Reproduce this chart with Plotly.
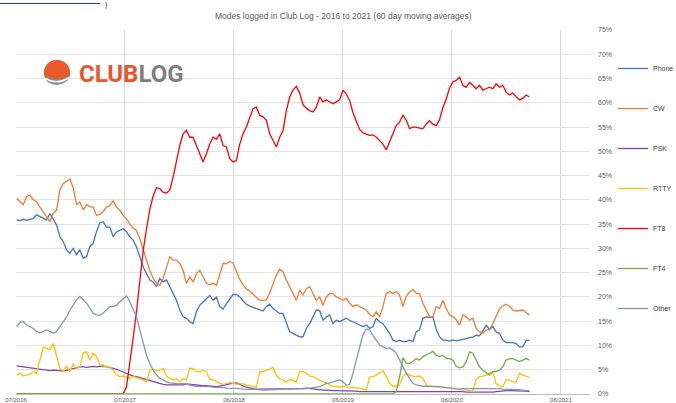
import math
import pandas as pd
import plotly.graph_objects as go

# ---------------- data (percent share, 60 day moving averages, sampled every 11 days) ----------------
start_date = "2016-07-12"
step = "11D"

phone = [35.9, 35.7, 36.0, 35.8, 36.0, 36.2, 36.9, 36.6, 36.2, 35.9,
         37.2, 35.9, 34.8, 32.4, 31.4, 29.7, 29.0, 30.0, 28.7, 29.7,
         28.0, 28.3, 30.4, 31.1, 33.5, 35.3, 35.5, 34.4, 34.4, 32.4,
         33.4, 33.7, 34.1, 33.4, 32.4, 31.7, 30.3, 28.3, 26.2, 24.8,
         23.5, 23.1, 22.1, 23.8, 23.1, 23.5, 22.1, 20.7, 19.3, 17.3,
         15.9, 15.6, 14.9, 14.5, 17.0, 18.3, 19.0, 19.6, 20.3, 19.3,
         20.0, 18.0, 17.5, 18.6, 19.6, 20.5, 20.5, 20.0, 19.2, 18.5,
         18.1, 17.8, 17.6, 17.4, 17.1, 18.0, 18.5, 17.6, 17.1, 16.6,
         16.6, 14.5, 12.8, 12.5, 12.1, 11.8, 11.8, 13.5, 14.5, 15.9,
         17.3, 17.2, 15.2, 15.9, 16.3, 14.5, 15.2, 14.9, 15.2, 15.6,
         15.2, 14.9, 14.5, 14.2, 13.9, 14.2, 13.5, 13.9, 15.6, 14.9,
         14.5, 13.5, 12.5, 11.1, 10.8, 11.1, 10.8, 10.8, 11.1, 10.8,
         12.8, 13.2, 15.6, 15.9, 15.8, 15.9, 13.3, 11.8, 11.1, 11.1,
         10.9, 11.1, 11.0, 11.1, 11.2, 11.4, 11.6, 11.7, 12.1, 12.0,
         13.0, 14.2, 13.3, 13.9, 12.8, 12.5, 11.1, 10.6, 10.6, 10.6,
         10.4, 9.7, 9.7, 11.0, 11.1]

cw = [40.3, 39.6, 39.0, 40.7, 41.0, 40.0, 39.6, 38.5, 37.5, 36.5,
      35.5, 37.2, 37.9, 42.0, 43.4, 43.8, 44.3, 42.5, 39.0, 39.6,
      37.9, 39.0, 38.6, 38.5, 36.8, 37.0, 37.6, 38.5, 38.8, 39.8,
      38.5, 37.9, 36.8, 36.1, 35.0, 34.2, 33.7, 32.0, 29.6, 27.6,
      25.5, 23.8, 22.8, 22.4, 23.8, 26.2, 28.3, 27.6, 27.6, 26.9,
      25.5, 22.8, 24.1, 23.1, 24.8, 25.5, 24.0, 22.8, 22.5, 22.8,
      22.4, 24.5, 26.9, 26.8, 27.3, 27.0, 25.3, 23.6, 22.5, 21.7,
      21.2, 20.5, 20.0, 19.3, 19.3, 19.4, 20.8, 22.6, 24.5, 25.7,
      25.2, 23.5, 22.1, 20.7, 19.3, 21.4, 20.4, 21.7, 22.1, 20.7,
      19.3, 20.0, 18.3, 20.0, 20.7, 20.7, 20.0, 19.7, 19.3, 19.7,
      18.7, 18.0, 18.4, 18.0, 17.6, 17.3, 16.4, 15.9, 16.9, 15.9,
      18.0, 20.7, 21.1, 20.7, 21.1, 20.4, 18.0, 20.2, 21.0, 21.5,
      20.8, 20.7, 18.7, 17.3, 15.9, 15.9, 18.0, 17.6, 19.3, 17.6,
      16.3, 15.9, 15.3, 14.2, 16.3, 15.9, 15.2, 15.6, 13.5, 12.8,
      12.5, 13.2, 13.2, 14.5, 15.9, 17.5, 18.2, 18.5, 18.1, 17.3,
      17.1, 17.2, 17.3, 16.8, 16.3]

psk = [5.8, 5.7, 5.5, 5.4, 5.3, 5.2, 5.1, 5.0, 4.9, 4.9,
       4.8, 4.9, 4.9, 4.8, 4.7, 4.9, 5.1, 5.3, 5.5, 5.6,
       5.6, 5.5, 5.6, 5.7, 5.6, 5.7, 5.8, 5.6, 5.5, 5.3,
       5.1, 4.8, 4.6, 4.3, 4.0, 3.7, 3.6, 3.4, 3.2, 2.9,
       2.7, 2.5, 2.3, 2.2, 2.0, 1.9, 1.9, 1.8, 1.8, 1.8,
       1.9, 2.1, 2.0, 1.9, 1.8, 1.8, 1.7, 1.7, 1.6, 1.5,
       1.5, 1.6, 1.8, 2.0, 2.1, 2.2, 2.3, 2.0, 1.6, 1.4,
       1.2, 1.1, 1.0, 1.0, 1.0, 1.0, 1.0, 1.0, 1.0, 1.0,
       1.0, 1.0, 1.0, 1.0, 1.0, 1.1, 1.1, 1.2, 1.1, 1.0,
       0.9, 0.8, 0.8, 0.8, 0.7, 0.7, 0.7, 0.7, 0.6, 0.6,
       0.6, 0.6, 0.6, 0.5, 0.5, 0.5, 0.5, 0.5, 0.5, 0.5,
       0.5, 0.5, 0.5, 0.5, 0.5, 0.5, 0.6, 0.6, 0.5, 0.5,
       0.5, 0.5, 0.5, 0.5, 0.5, 0.5, 0.5, 0.5, 0.5, 0.5,
       0.5, 0.5, 0.5, 0.5, 0.5, 0.4, 0.4, 0.4, 0.4, 0.4,
       0.4, 0.3, 0.3, 0.4, 0.5, 0.6, 0.7, 0.7, 0.7, 0.7,
       0.7, 0.7, 0.6, 0.6, 0.5]

rtty = [3.9, 4.3, 3.7, 3.9, 4.1, 4.6, 4.3, 7.0, 9.6, 9.4,
        9.1, 10.4, 7.7, 5.3, 4.6, 5.8, 4.6, 6.2, 5.3, 5.5,
        8.5, 8.7, 7.0, 8.4, 7.7, 6.0, 6.0, 5.5, 5.6, 4.9,
        3.9, 3.6, 3.7, 3.4, 3.2, 3.6, 3.4, 3.2, 2.9, 2.5,
        4.9, 5.1, 4.8, 4.9, 5.3, 3.6, 3.2, 2.9, 3.2, 2.5,
        3.2, 2.9, 5.3, 5.3, 4.6, 4.6, 4.9, 4.6, 3.0, 2.9,
        2.6, 2.2, 2.0, 2.2, 2.4, 2.2, 2.0, 2.1, 2.1, 1.9,
        1.7, 1.5, 1.4, 4.6, 4.6, 4.9, 5.1, 5.5, 3.8, 3.2,
        2.9, 2.5, 3.0, 2.8, 2.5, 4.6, 4.6, 4.3, 3.7, 3.6,
        3.2, 2.9, 2.5, 2.3, 1.9, 1.5, 1.6, 1.4, 1.6, 1.4,
        1.2, 1.4, 1.2, 1.2, 1.0, 0.8, 3.5, 3.6, 3.9, 4.3,
        4.8, 3.6, 2.2, 1.6, 1.6, 1.9, 3.6, 4.3, 3.9, 3.7,
        3.6, 3.7, 3.2, 1.9, 1.6, 1.5, 1.5, 1.4, 1.4, 1.3,
        1.2, 1.1, 1.0, 0.9, 0.8, 0.8, 0.7, 0.6, 3.0, 3.6,
        3.7, 3.9, 4.3, 4.6, 2.1, 1.7, 1.5, 2.9, 2.9, 2.5,
        2.5, 4.3, 3.9, 3.6, 3.4]

ft8 = [0.0] * 33 + [
        1.5, 6.0, 11.5, 17.0, 23.5, 29.5, 34.0,
        38.0, 40.8, 42.5, 42.3, 41.6, 41.4, 42.0, 44.7, 48.1, 51.2,
        53.6, 54.3, 52.9, 52.9, 51.2, 49.5, 47.8, 49.5, 51.5, 52.9,
        52.5, 53.6, 51.2, 50.9, 48.5, 47.8, 48.1, 51.5, 53.6, 55.0,
        57.1, 58.8, 59.1, 57.4, 57.1, 56.4, 53.6, 52.2, 50.9, 52.9,
        54.3, 58.4, 61.2, 62.6, 63.4, 62.0, 59.6, 58.9, 58.4, 58.1,
        59.1, 61.2, 60.2, 60.6, 60.2, 59.8, 60.2, 60.6, 62.6, 61.8,
        60.5, 58.0, 56.2, 54.5, 53.8, 53.5, 53.3, 53.4, 52.9, 52.2,
        51.5, 50.3, 52.0, 54.0, 55.3, 56.0, 57.5, 56.4, 54.7, 55.0,
        55.0, 54.8, 54.7, 55.6, 56.3, 55.6, 55.3, 56.5, 59.0, 60.8,
        63.0, 64.3, 64.6, 65.3, 63.6, 63.2, 64.2, 63.6, 62.9, 63.6,
        62.6, 62.9, 63.2, 62.9, 63.9, 63.2, 63.6, 62.2, 61.6, 62.0,
        61.2, 60.6, 60.9, 61.6, 61.2]

ft4 = [0.0] * 114 + [
        0.5, 3.5, 7.5, 6.3, 6.3, 6.7,
        7.3, 7.0, 7.7, 8.0, 8.4, 8.8, 8.0, 7.7, 8.0, 7.3,
        7.3, 7.0, 5.7, 5.4, 5.6, 6.6, 8.7, 8.4, 7.0, 5.6,
        4.9, 4.3, 3.9, 4.6, 4.6, 4.9, 5.6, 7.0, 7.3, 7.3,
        7.0, 6.7, 7.0, 7.3, 7.0]

other = [13.9, 14.7, 14.9, 14.2, 13.9, 13.5, 12.9, 12.6, 12.9, 13.2,
         12.9, 12.5, 12.9, 13.9, 14.9, 15.9, 17.3, 18.4, 19.4, 20.1,
         19.4, 18.7, 17.7, 16.6, 16.3, 16.2, 16.7, 17.3, 18.0, 18.0,
         18.3, 19.0, 19.7, 20.2, 19.0, 17.6, 15.9, 13.2, 10.4, 8.0,
         6.3, 4.9, 3.9, 3.2, 2.9, 2.5, 2.3, 2.2, 2.1, 2.1,
         2.2, 2.0, 1.9, 1.7, 1.6, 1.6, 1.5, 1.5, 1.5, 1.4,
         1.4, 1.3, 1.3, 1.2, 1.2, 1.2, 1.1, 1.1, 1.0, 1.0,
         1.0, 0.9, 0.9, 0.9, 0.8, 0.8, 0.8, 0.9, 0.9, 1.0,
         1.0, 1.0, 1.0, 1.0, 1.0, 1.1, 1.1, 1.1, 1.2, 1.3,
         1.3, 1.5, 1.8, 2.2, 2.3, 2.5, 2.7, 2.9, 2.5, 1.8,
         2.0, 4.2, 7.0, 9.8, 12.2, 13.4, 13.2, 12.1, 11.1, 10.1,
         9.7, 9.4, 9.5, 9.1, 8.4, 7.0, 5.6, 4.3, 3.2, 2.2,
         1.9, 1.7, 1.6, 1.6, 1.6, 1.6, 1.6, 1.5, 1.4, 1.3,
         1.2, 1.1, 1.0, 1.0, 1.1, 1.1, 1.2, 1.2, 1.2, 1.2,
         1.2, 1.2, 1.2, 1.1, 1.1, 1.1, 1.0, 1.0, 1.0, 1.0,
         1.0, 0.9, 0.8, 0.7, 0.7]

series_names = ["Phone", "CW", "PSK", "RTTY", "FT8", "FT4", "Other"]
series_values = [phone, cw, psk, rtty, ft8, ft4, other]
series_colors = ["#4472C4", "#ED7D31", "#7E3FC8", "#FFC000", "#FF0000", "#70AD47", "#8497B0"]

tick_dates = ["2016-07-10", "2017-07-05", "2018-06-30", "2019-06-25", "2020-06-19", "2021-06-14"]
tick_labels = ["07/2016", "07/2017", "06/2018", "06/2019", "06/2020", "06/2021"]
x_range = ["2016-07-10", "2021-09-18"]
y_ticks = list(range(0, 80, 5))
y_tick_labels = [f"{v}%" for v in y_ticks]

title_text = "Modes logged in Club Log - 2016 to 2021 (60 day moving averages)"

# ---------------- figure ----------------
dates = pd.date_range(start_date, periods=len(phone), freq=step)

fig = go.Figure()
for name, vals, col in zip(series_names, series_values, series_colors):
    fig.add_trace(go.Scatter(x=dates, y=vals, name=name, mode="lines",
                             legendgroup=name,
                             line=dict(color=col, width=1.3)))

# plot-area geometry in pixels (for decorations)
L, R, T, B = 16, 590, 30, 394
W, H = 676, 403


def pp(px, py):
    return (px - L) / (R - L), (B - py) / (B - T)


shapes = []
# ClubLog sphere icon
cx, cy, r = 57, 73, 13
x0, y0 = pp(cx - r, cy + r)
x1, y1 = pp(cx + r, cy - r)
shapes.append(dict(type="circle", xref="paper", yref="paper", x0=x0, y0=y0, x1=x1, y1=y1,
                   fillcolor="#8C8C8C", line=dict(width=0), layer="above"))
pts = []
for a in range(195, -20, -10):
    ar = math.radians(a)
    pts.append(pp(cx + r * math.cos(ar), cy - r * math.sin(ar)))
path = "M " + " L ".join(f"{x:.5f},{y:.5f}" for x, y in pts)
qc = pp(cx + 1, cy + 9)
path += f" Q {qc[0]:.5f},{qc[1]:.5f} {pts[0][0]:.5f},{pts[0][1]:.5f} Z"
shapes.append(dict(type="path", xref="paper", yref="paper", path=path,
                   fillcolor="#EA5A2A", line=dict(width=0), layer="above"))
for (ax, ay), (qx, qy), (bx, by) in [((45.3, 78.5), (57, 85.5), (69.2, 77.5)),
                                     ((47.5, 82.8), (57, 89), (66.8, 82.2))]:
    a1, q1, b1 = pp(ax, ay), pp(qx, qy), pp(bx, by)
    shapes.append(dict(type="path", xref="paper", yref="paper",
                       path=f"M {a1[0]:.5f},{a1[1]:.5f} Q {q1[0]:.5f},{q1[1]:.5f} {b1[0]:.5f},{b1[1]:.5f}",
                       line=dict(color="white", width=1.6), layer="above"))
# cut-off hyperlink underline at the very top-left
u0, u1 = pp(0, 3.5), pp(100, 3.5)
shapes.append(dict(type="line", xref="paper", yref="paper", x0=u0[0], y0=u0[1], x1=u1[0], y1=u1[1],
                   line=dict(color="#1A3FD6", width=1)))

annotations = []
tx, ty = pp(343, 16)
annotations.append(dict(text=title_text, xref="paper", yref="paper", x=tx, y=ty,
                        xanchor="center", yanchor="middle", showarrow=False,
                        font=dict(family="Liberation Sans, Arial, sans-serif", size=8.5, color="#595959")))
lx, ly = pp(77, 74)
annotations.append(dict(text="<b><span style='color:#E8562A'>CLUB</span><span style='color:#7F7F7F'>LOG</span></b>",
                        xref="paper", yref="paper", x=lx, y=ly, xanchor="left", yanchor="middle",
                        showarrow=False, font=dict(family="Roboto, Liberation Sans, sans-serif", size=24)))
px_, py_ = pp(106, 5)
annotations.append(dict(text=")", xref="paper", yref="paper", x=px_, y=py_, xanchor="center",
                        yanchor="middle", showarrow=False,
                        font=dict(family="Liberation Sans, Arial", size=7, color="#333333")))

lgx, lgy = pp(613, 54)
fig.update_layout(
    width=W, height=H,
    margin=dict(l=L, r=W - R, t=T, b=H - B, pad=0, autoexpand=False),
    paper_bgcolor="white", plot_bgcolor="white",
    font=dict(family="Liberation Sans, Arial, sans-serif", color="#595959"),
    showlegend=True,
    legend=dict(x=lgx, y=lgy, xanchor="left", yanchor="top",
                font=dict(size=7, color="#404040"), tracegroupgap=21,
                bgcolor="rgba(0,0,0,0)", borderwidth=0, traceorder="grouped"),
    shapes=shapes,
    annotations=annotations,
)
fig.update_xaxes(type="date", range=x_range, tickvals=tick_dates, ticktext=tick_labels,
                 automargin=False,
                 showgrid=True, gridcolor="#D9D9D9", gridwidth=1,
                 showline=True, linecolor="#BFBFBF", linewidth=1,
                 zeroline=False, ticks="", ticklabelstandoff=0,
                 tickfont=dict(size=6, color="#595959"))
fig.update_yaxes(range=[0, 75], tickvals=y_ticks, ticktext=y_tick_labels, side="right",
                 automargin=False,
                 showgrid=True, gridcolor="#E3E3E3", gridwidth=1, zeroline=False,
                 showline=False, ticks="", ticklabelstandoff=7,
                 tickfont=dict(size=7, color="#595959"))

fig.write_html("out.html",
               config={"displayModeBar": False},
               post_script="document.body.style.margin='0';document.body.style.padding='0';")
